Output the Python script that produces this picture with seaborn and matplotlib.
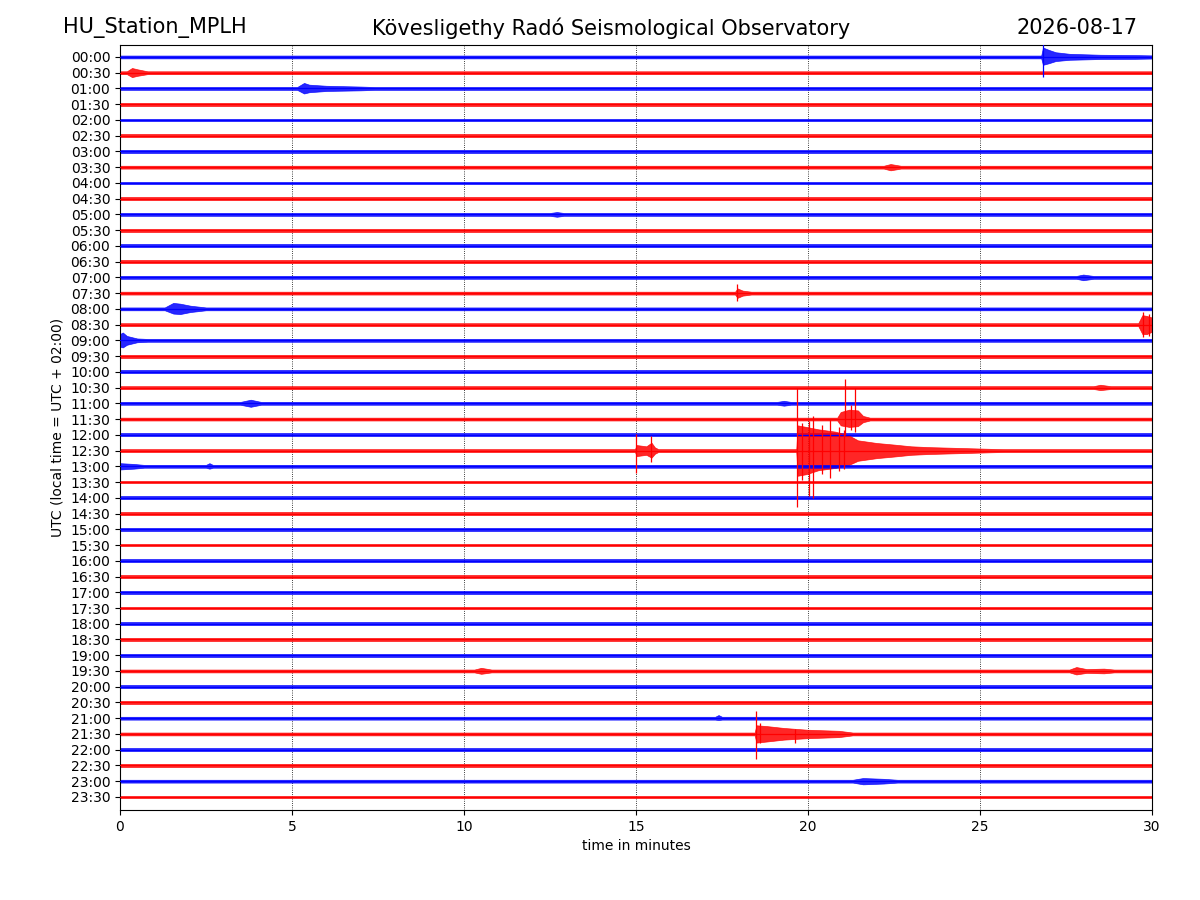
import numpy as np
import pandas as pd
import matplotlib
matplotlib.use("Agg")
import matplotlib.pyplot as plt
import seaborn as sns

# ---------------- data ----------------
TRACE_LABELS = ["00:00", "00:30", "01:00", "01:30", "02:00", "02:30", "03:00", "03:30",
                "04:00", "04:30", "05:00", "05:30", "06:00", "06:30", "07:00", "07:30",
                "08:00", "08:30", "09:00", "09:30", "10:00", "10:30", "11:00", "11:30",
                "12:00", "12:30", "13:00", "13:30", "14:00", "14:30", "15:00", "15:30",
                "16:00", "16:30", "17:00", "17:30", "18:00", "18:30", "19:00", "19:30",
                "20:00", "20:30", "21:00", "21:30", "22:00", "22:30", "23:00", "23:30"]
TRACE_COLORS = ["blue", "red"]          # alternate per trace
X_TICKS = [0, 5, 10, 15, 20, 25, 30]
NOISE_AMP = 0.09                        # background noise half-amplitude (trace units)

# envelope breakpoints: (minute, upward amplitude, downward amplitude) in trace units
EVENT_0000 = [(26.78, .09, .09), (26.83, 0.6, 0.5), (27.0, 0.45, 0.4), (27.2, 0.3, 0.26),
              (27.6, 0.2, 0.18), (28.5, 0.14, 0.13), (29.5, 0.12, 0.12), (30.0, 0.1, 0.1)]
EVENT_0030 = [(0.2, .09, .09), (0.35, 0.3, 0.28), (0.5, 0.22, 0.2), (0.8, .09, .09)]
EVENT_0100 = [(5.15, .09, .09), (5.35, 0.35, 0.32), (5.5, 0.24, 0.24), (6.0, 0.17, 0.16),
              (7.0, 0.12, 0.12), (7.4, .09, .09)]
EVENT_0330 = [(22.2, .09, .09), (22.4, 0.2, 0.2), (22.7, .09, .09)]
EVENT_0500 = [(12.5, .09, .09), (12.7, 0.15, 0.15), (12.9, .09, .09)]
EVENT_0700 = [(27.8, .09, .09), (28.0, 0.18, 0.18), (28.3, .09, .09)]
EVENT_0730 = [(17.88, .09, .09), (17.95, 0.3, 0.3), (18.1, 0.16, 0.16), (18.35, .09, .09)]
EVENT_0800 = [(1.3, .09, .09), (1.55, 0.38, 0.3), (1.75, 0.33, 0.33), (2.05, 0.2, 0.2),
              (2.5, .09, .09)]
EVENT_0830 = [(29.6, .09, .09), (29.72, 0.6, 0.6), (29.85, 0.55, 0.6), (30.0, 0.45, 0.45)]
EVENT_0900 = [(0.0, 0.4, 0.4), (0.08, 0.5, 0.45), (0.2, 0.28, 0.28), (0.5, 0.12, 0.12),
              (0.8, .09, .09)]
EVENT_1030 = [(28.3, .09, .09), (28.5, 0.18, 0.16), (28.8, .09, .09)]
EVENT_1100 = [(3.5, .09, .09), (3.8, 0.23, 0.22), (4.1, .09, .09),
              (19.1, .09, .09), (19.3, 0.16, 0.15), (19.5, .09, .09)]
EVENT_1130 = [(20.85, .09, .09), (20.95, 0.45, 0.4), (21.2, 0.6, 0.5), (21.45, 0.55, 0.45),
              (21.6, 0.2, 0.2), (21.8, .09, .09)]
EVENT_1230 = [(14.97, .09, .09), (15.02, 0.35, 0.35), (15.3, 0.27, 0.27), (15.45, 0.5, 0.45),
              (15.55, 0.2, 0.2), (15.65, .09, .09),
              (19.66, .09, .09), (19.7, 1.6, 1.6), (19.95, 1.5, 1.5), (20.3, 1.35, 1.25),
              (20.8, 1.2, 1.1), (21.2, 0.95, 0.9), (21.45, 0.65, 0.65), (22.0, 0.48, 0.48),
              (22.5, 0.38, 0.38), (23.0, 0.27, 0.27), (23.5, 0.22, 0.22), (24.5, 0.16, 0.16),
              (25.3, 0.11, 0.11), (25.7, .09, .09)]
EVENT_1300 = [(0.0, 0.2, 0.2), (0.4, 0.15, 0.15), (0.7, .09, .09),
              (2.5, .09, .09), (2.6, 0.2, 0.15), (2.7, .09, .09)]
EVENT_1930 = [(10.3, .09, .09), (10.5, 0.2, 0.18), (10.8, .09, .09),
              (27.6, .09, .09), (27.8, 0.25, 0.22), (28.1, 0.12, 0.12), (28.6, 0.15, 0.15),
              (28.9, .09, .09)]
EVENT_2100 = [(17.3, .09, .09), (17.4, 0.2, 0.12), (17.5, .09, .09)]
EVENT_2130 = [(18.45, .09, .09), (18.5, 0.55, 0.55), (18.8, 0.5, 0.48), (19.3, 0.38, 0.36),
              (19.97, 0.27, 0.27), (20.9, 0.2, 0.2), (21.3, .09, .09)]
EVENT_2300 = [(21.3, .09, .09), (21.6, 0.2, 0.2), (22.2, 0.15, 0.15), (22.6, .09, .09)]

EVENTS = {"00:00": EVENT_0000, "00:30": EVENT_0030, "01:00": EVENT_0100, "03:30": EVENT_0330,
          "05:00": EVENT_0500, "07:00": EVENT_0700, "07:30": EVENT_0730, "08:00": EVENT_0800,
          "08:30": EVENT_0830, "09:00": EVENT_0900, "10:30": EVENT_1030, "11:00": EVENT_1100,
          "11:30": EVENT_1130, "12:30": EVENT_1230, "13:00": EVENT_1300, "19:30": EVENT_1930,
          "21:00": EVENT_2100, "21:30": EVENT_2130, "23:00": EVENT_2300}

# individual large spikes: (trace, minute, upward amplitude, downward amplitude)
SPIKE_TRACE = ["00:00", "07:30", "08:30", "08:30", "11:30", "11:30", "11:30",
               "12:30", "12:30", "12:30", "12:30", "12:30", "12:30", "12:30", "12:30",
               "12:30", "12:30", "21:30", "21:30", "21:30"]
SPIKE_TIME = [26.84, 17.94, 29.75, 29.9, 21.07, 21.37, 21.25,
              15.0, 15.44, 19.69, 19.82, 20.02, 20.15, 20.4, 20.64, 20.9, 21.05,
              18.48, 18.6, 19.63]
SPIKE_UP = [1.0, 0.55, 0.8, 0.7, 2.55, 2.0, 0.9,
            1.05, 0.9, 4.0, 1.75, 1.9, 2.2, 1.6, 2.0, 1.5, 1.3,
            1.46, 0.7, 0.3]
SPIKE_DN = [1.3, 0.5, 0.8, 0.7, 1.0, 0.8, 0.7,
            1.45, 0.7, 3.6, 1.9, 2.9, 3.0, 1.5, 1.75, 1.3, 1.2,
            1.57, 0.6, 0.6]

# ---------------- plot ----------------
sns.set_style("ticks")
plt.rcParams["font.family"] = ["DejaVu Sans"]
for k in ("text.color", "axes.labelcolor", "xtick.color", "ytick.color", "axes.edgecolor"):
    plt.rcParams[k] = "black"

fig = plt.figure(figsize=(12, 9), dpi=100)
ax = fig.add_axes([0.1, 0.1, 0.86, 0.85])

n = len(TRACE_LABELS)
offsets = -np.arange(n)
pos = {lab: offsets[i] for i, lab in enumerate(TRACE_LABELS)}
colof = {lab: TRACE_COLORS[i % 2] for i, lab in enumerate(TRACE_LABELS)}

rows = []
for lab in TRACE_LABELS:
    for t in (0, 30):
        rows.append({"t": t, "y": pos[lab], "trace": lab, "color": colof[lab]})
base_df = pd.DataFrame(rows)

for lab in TRACE_LABELS:
    col = colof[lab]
    pts = [(0.0, NOISE_AMP, NOISE_AMP)] + EVENTS.get(lab, []) + [(30.0, NOISE_AMP, NOISE_AMP)]
    pts = sorted(pts, key=lambda p: p[0])
    tt = np.array([p[0] for p in pts])
    up = np.array([p[1] for p in pts])
    dn = np.array([p[2] for p in pts])
    ax.fill_between(tt, pos[lab] + up, pos[lab] - dn, color=col, alpha=0.85,
                    linewidth=0.5, edgecolor=col, zorder=2)

sns.lineplot(data=base_df, x="t", y="y", units="trace", estimator=None, hue="color",
             palette={"blue": "blue", "red": "red"}, linewidth=0.9, legend=False, ax=ax,
             zorder=3)

spk = pd.DataFrame({"trace": SPIKE_TRACE, "t": SPIKE_TIME, "up": SPIKE_UP, "dn": SPIKE_DN})
for _, r in spk.iterrows():
    y0 = pos[r["trace"]]
    ax.vlines(r["t"], y0 - r["dn"], y0 + r["up"], color=colof[r["trace"]],
              linewidth=0.9, zorder=4)

ax.set_xlim(0, 30)
ax.set_ylim(-47.83, 0.76)
ax.set_xticks(X_TICKS)
ax.set_yticks(offsets)
ax.set_yticklabels(TRACE_LABELS)
ax.tick_params(axis="both", labelsize=10, direction="out", length=3.5, width=0.8,
               colors="black")
for xv in X_TICKS[1:-1]:
    ax.axvline(xv, color="black", linestyle=":", linewidth=0.6, zorder=1)
for s in ax.spines.values():
    s.set_visible(True)
    s.set_linewidth(0.8)
    s.set_color("black")
ax.set_xlabel("time in minutes", fontsize=10)
ax.set_ylabel("UTC (local time = UTC + 02:00)", fontsize=10)

fig.text(63 / 1200, 1 - 28 / 900, "HU_Station_MPLH", fontsize=15, ha="left", va="center")
fig.text(611 / 1200, 1 - 28 / 900, "Kövesligethy Radó Seismological Observatory",
         fontsize=15, ha="center", va="center")
fig.text(1137 / 1200, 1 - 28 / 900, "2026-08-17", fontsize=15, ha="right", va="center")

fig.savefig("out.png", dpi=100)
